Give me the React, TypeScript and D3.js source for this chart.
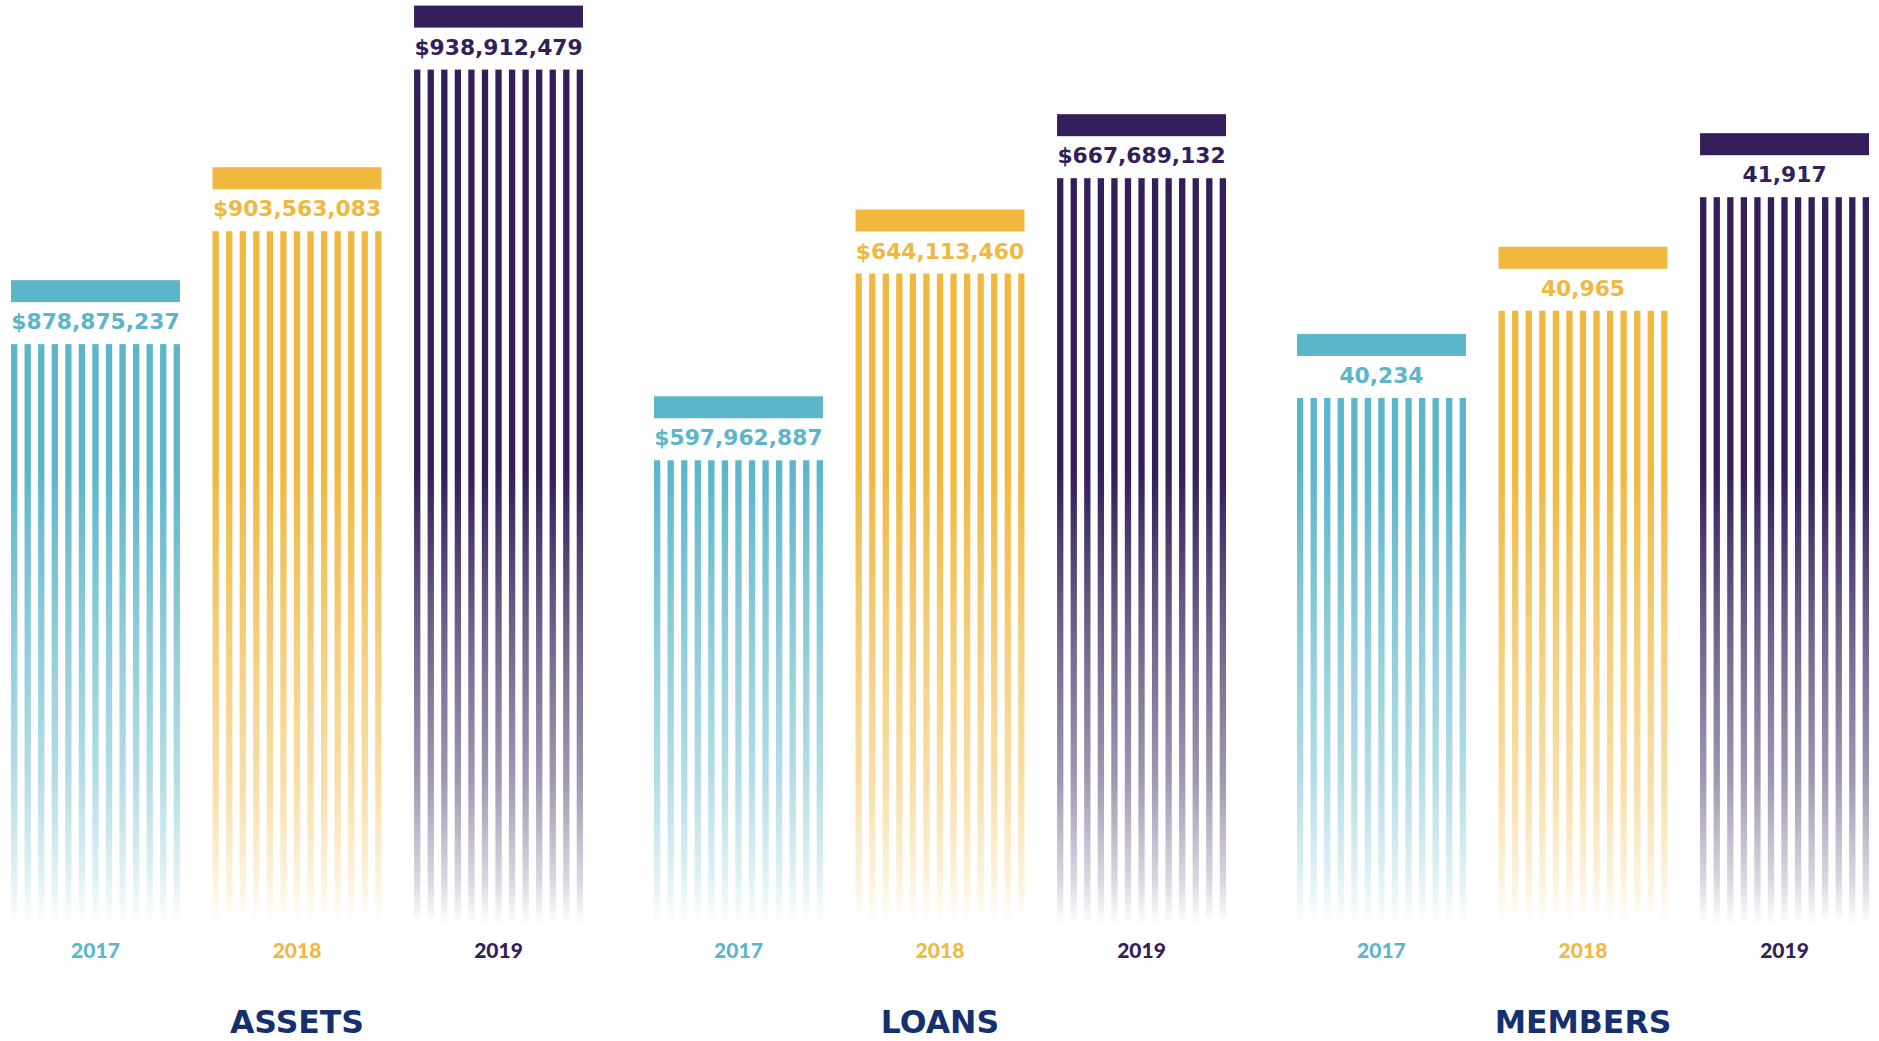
import React from "react";
import * as d3 from "d3";

const categories = ["ASSETS", "LOANS", "MEMBERS"];
const years = ["2017", "2018", "2019"];
const assets = [878875237, 903563083, 938912479];
const loans = [597962887, 644113460, 667689132];
const members = [40234, 40965, 41917];
const seriesByCategory = [assets, loans, members];
// per-category value domains (visual scale floor / ceiling)
const domains: [number, number][] = [
  [752.95e6, 954.13e6],
  [484.33e6, 711.73e6],
  [35858, 43570],
];
const formats = [d3.format("$,"), d3.format("$,"), d3.format(",")];
const yearColors = ["#5cb6ca", "#f0b83f", "#331e59"];
const titleColor = "#14306f";

const W = 1879;
const H = 1041;
const STRIPE_BOTTOM = 925;
const STRIPES = d3.range(13);

export default function App() {
  const outer = d3.scaleBand<string>().domain(categories).range([11, 1869]).paddingInner(0.1104);
  const inner = d3.scaleBand<string>().domain(years).range([0, outer.bandwidth()]).paddingInner(0.1617);
  const stripe = d3.scaleBand<number>().domain(STRIPES).range([0, inner.bandwidth()]).paddingInner(0.535);

  const fadeStops = [
    [470, 1],
    [620, 0.72],
    [780, 0.46],
    [880, 0.18],
    [STRIPE_BOTTOM, 0],
  ];

  return (
    <svg width={W} height={H} style={{ position: "absolute", left: 0, top: 0, background: "#fff" }}>
      <defs>
        {yearColors.map((c, i) => (
          <linearGradient key={i} id={`fade${i}`} gradientUnits="userSpaceOnUse" x1={0} x2={0} y1={470} y2={STRIPE_BOTTOM}>
            {fadeStops.map(([y, o], k) => (
              <stop key={k} offset={(y - 470) / (STRIPE_BOTTOM - 470)} stopColor={c} stopOpacity={o} />
            ))}
          </linearGradient>
        ))}
      </defs>
      {categories.map((cat, ci) => {
        const y = d3.scaleLinear().domain(domains[ci]).range([920, 0]);
        const gx = outer(cat)!;
        return (
          <g key={cat} transform={`translate(${gx},0)`}>
            {years.map((yr, yi) => {
              const v = seriesByCategory[ci][yi];
              const top = y(v);
              const bx = inner(yr)!;
              const bw = inner.bandwidth();
              const color = yearColors[yi];
              return (
                <g key={yr} transform={`translate(${bx},0)`}>
                  <rect x={0} y={top - 64} width={bw} height={22} fill={color} />
                  <text
                    x={bw / 2}
                    y={top - 15}
                    textAnchor="middle"
                    fill={color}
                    style={{ font: "bold 21.8px 'DejaVu Sans'" }}
                  >
                    {formats[ci](v)}
                  </text>
                  {STRIPES.map((s) => (
                    <rect
                      key={s}
                      x={stripe(s)!}
                      y={top}
                      width={stripe.bandwidth()}
                      height={STRIPE_BOTTOM - top}
                      fill={`url(#fade${yi})`}
                    />
                  ))}
                  <text
                    x={bw / 2}
                    y={958}
                    textAnchor="middle"
                    fill={color}
                    style={{ font: "900 21px Lato" }}
                  >
                    {yr}
                  </text>
                </g>
              );
            })}
            <text
              x={outer.bandwidth() / 2}
              y={1033}
              textAnchor="middle"
              fill={titleColor}
              style={{ font: "bold 31.5px 'DejaVu Sans'" }}
            >
              {cat}
            </text>
          </g>
        );
      })}
    </svg>
  );
}
